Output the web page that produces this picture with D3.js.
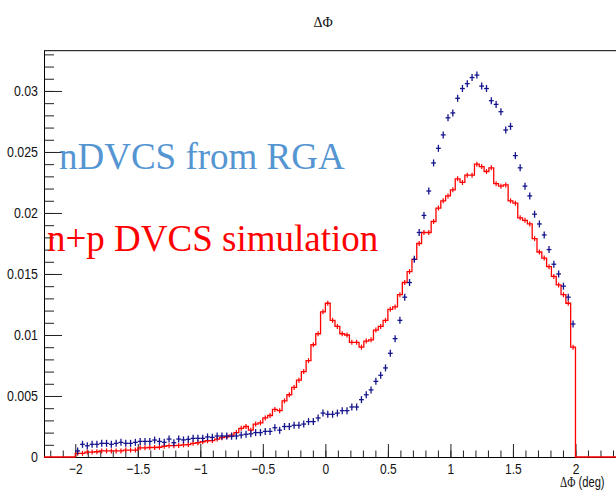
<!DOCTYPE html>
<html>
<head>
<meta charset="utf-8">
<script src="https://cdn.jsdelivr.net/npm/d3@7"></script>
<style>
  html, body { margin: 0; padding: 0; background: #fff; }
  svg { display: block; }
</style>
</head>
<body>
<svg id="chart" width="616" height="491"></svg>
<script>
// Histogram binning shared by both samples: 104 equal bins on [-2, 2]
const binRange = [-2, 2];

// nDVCS from RGA (normalised counts per bin)
const rgaValues = [
  0.0005, 0.00104, 0.00092, 0.00104, 0.00104, 0.00112, 0.00112, 0.00104, 0.00112, 0.0012,
  0.00112, 0.00112, 0.0012, 0.00128, 0.00128, 0.00128, 0.00139, 0.00128, 0.0012, 0.00147,
  0.00117, 0.00147, 0.0014, 0.00145, 0.00153, 0.00153, 0.00153, 0.00165, 0.00161, 0.00172,
  0.00172, 0.00172, 0.0017, 0.00172, 0.0018, 0.00186, 0.0019, 0.002, 0.002, 0.0021,
  0.0021, 0.0024, 0.0022, 0.0025, 0.0025, 0.0026, 0.0026, 0.0027, 0.0029, 0.0029,
  0.0032, 0.0036, 0.0035, 0.0035, 0.0036, 0.0038, 0.0038, 0.0041, 0.0041, 0.0047,
  0.0051, 0.0055, 0.0062, 0.0067, 0.0073, 0.0085, 0.0097, 0.0112, 0.0131, 0.0143,
  0.0162, 0.0184, 0.0198, 0.0218, 0.0241, 0.0253, 0.0264, 0.0278, 0.0282, 0.0294,
  0.0302, 0.0306, 0.0311, 0.0313, 0.0304, 0.0302, 0.0292, 0.0289, 0.0283, 0.0268,
  0.0271, 0.0247, 0.0237, 0.0222, 0.0214, 0.0199, 0.0191, 0.0182, 0.017, 0.0158,
  0.015, 0.014, 0.0131, 0.0109
];

// n+p DVCS simulation (normalised counts per bin)
const simValues = [
  0.0003, 0.0003, 0.0004, 0.0004, 0.00043, 0.0005, 0.0005, 0.0005, 0.0005, 0.0005,
  0.00057, 0.00057, 0.00057, 0.00075, 0.00075, 0.00078, 0.00078, 0.0008, 0.00088, 0.00093,
  0.00093, 0.00095, 0.001, 0.00102, 0.00112, 0.00117, 0.00125, 0.00133, 0.00135, 0.00147,
  0.00158, 0.00166, 0.0018, 0.002, 0.00235, 0.0025, 0.0022, 0.0027, 0.0028, 0.0032,
  0.0034, 0.0039, 0.0038, 0.0046, 0.0051, 0.0057, 0.0063, 0.007, 0.0079, 0.0092,
  0.0101, 0.0119, 0.0126, 0.0112, 0.0107, 0.0101, 0.01, 0.0094, 0.0094, 0.009,
  0.0095, 0.0096, 0.0104, 0.0107, 0.0112, 0.0121, 0.0123, 0.0133, 0.0143, 0.0152,
  0.0162, 0.0175, 0.0184, 0.0184, 0.0193, 0.0204, 0.021, 0.0214, 0.0219, 0.0228,
  0.0225, 0.0231, 0.0231, 0.024, 0.0238, 0.0234, 0.0237, 0.0224, 0.0222, 0.0223,
  0.021, 0.0208, 0.0196, 0.0194, 0.0191, 0.0179, 0.0168, 0.0163, 0.0156, 0.0148,
  0.0141, 0.0133, 0.0126, 0.009
];

// Axis ticks
const xTicks = [-2, -1.5, -1, -0.5, 0, 0.5, 1, 1.5, 2];
const xTickLabels = ["\u22122", "\u22121.5", "\u22121", "\u22120.5", "0", "0.5", "1", "1.5", "2"];
const yTicks = [0, 0.005, 0.01, 0.015, 0.02, 0.025, 0.03];
const yTickLabels = ["0", "0.005", "0.01", "0.015", "0.02", "0.025", "0.03"];

const titleText = "\u0394\u03A6";
const xTitleGreek = "\u0394\u03A6";
const xTitleUnit = " (deg)";
const legendRGA = "nDVCS from RGA";
const legendSim = "n+p DVCS simulation";

// ---------------------------------------------------------------
const svg = d3.select("#chart");
const W = 616, H = 491;
const frame = { left: 44, right: 638, top: 50.7, bottom: 457 };
const xDomain = [-2.25, 2.5];
const yDomain = [0, 0.0333];

const x = d3.scaleLinear().domain(xDomain).range([frame.left, frame.right]);
const y = d3.scaleLinear().domain(yDomain).range([frame.bottom, frame.top]);

const nBins = rgaValues.length;
const edges = d3.range(nBins + 1).map(i => binRange[0] + i * (binRange[1] - binRange[0]) / nBins);
const centre = i => (edges[i] + edges[i + 1]) / 2;

const serifFont = "Liberation Serif, DejaVu Serif, serif";
const sansFont = "Liberation Sans, Arial, sans-serif";
const squeeze = 0.8;
const rgaColor = "#14148c";
const simColor = "#ff0000";

// Frame top edge
svg.append("line")
  .attr("x1", frame.left).attr("x2", W + 10)
  .attr("y1", frame.top).attr("y2", frame.top)
  .attr("stroke", "#000").attr("stroke-width", 1);

// Y axis: minor then major ticks pointing inward
const yMinor = d3.axisLeft(y).tickValues(d3.range(0, 0.0335, 0.001)).tickSize(-10).tickSizeOuter(0).tickFormat("");
const yMajor = d3.axisLeft(y).tickValues(yTicks).tickSize(-18).tickSizeOuter(0)
  .tickFormat((d, i) => yTickLabels[i]).tickPadding(5);

const gyMinor = svg.append("g").attr("transform", `translate(${frame.left},0)`).call(yMinor);
const gy = svg.append("g").attr("transform", `translate(${frame.left},0)`).call(yMajor);

// X axis
const xMinorVals = d3.range(-22, 26).map(v => v / 10);
const xMinor = d3.axisBottom(x).tickValues(xMinorVals).tickSize(-6.5).tickSizeOuter(0).tickFormat("");
const xMajor = d3.axisBottom(x).tickValues(xTicks).tickSize(-13).tickSizeOuter(0)
  .tickFormat((d, i) => xTickLabels[i]).tickPadding(6);

const gxMinor = svg.append("g").attr("transform", `translate(0,${frame.bottom})`).call(xMinor);
const gx = svg.append("g").attr("transform", `translate(0,${frame.bottom})`).call(xMajor);

[gyMinor, gy, gxMinor, gx].forEach(g => {
  g.selectAll("path.domain").attr("stroke", "#000").attr("stroke-width", 1);
  g.selectAll(".tick line").attr("stroke", "#222").attr("stroke-width", 1);
  g.attr("font-family", sansFont);
});

gy.selectAll(".tick text")
  .attr("font-size", 15.5).attr("fill", "#111")
  .attr("x", -6 / squeeze)
  .attr("transform", `scale(${squeeze},1)`);

gx.selectAll(".tick text")
  .attr("font-size", 15).attr("fill", "#111")
  .attr("transform", `scale(${squeeze},1)`);

// Simulation histogram as a step line
const stepPts = [[x(xDomain[0]), y(0)], [x(edges[0]), y(0)]];
simValues.forEach((v, i) => {
  stepPts.push([x(edges[i]), y(v)]);
  stepPts.push([x(edges[i + 1]), y(v)]);
});
stepPts.push([x(edges[nBins]), y(0)]);
stepPts.push([x(xDomain[1]), y(0)]);

svg.append("path")
  .attr("d", d3.line()(stepPts))
  .attr("fill", "none")
  .attr("stroke", simColor)
  .attr("stroke-width", 1.3)
  .attr("stroke-linejoin", "miter");

svg.append("g").selectAll("line")
  .data(simValues)
  .join("line")
  .attr("x1", (d, i) => x(centre(i))).attr("x2", (d, i) => x(centre(i)))
  .attr("y1", d => y(d) - 2.5).attr("y2", d => y(d) + 2.5)
  .attr("stroke", simColor).attr("stroke-width", 1.2);

// Data points with bin-width horizontal bars
const rga = svg.append("g").selectAll("g")
  .data(rgaValues)
  .join("g");

rga.append("line")
  .attr("x1", (d, i) => x(edges[i])).attr("x2", (d, i) => x(edges[i + 1]))
  .attr("y1", d => y(d)).attr("y2", d => y(d))
  .attr("stroke", rgaColor).attr("stroke-width", 1.3);

rga.append("line")
  .attr("x1", (d, i) => x(centre(i))).attr("x2", (d, i) => x(centre(i)))
  .attr("y1", d => y(d) - 3.5).attr("y2", d => y(d) + 3.5)
  .attr("stroke", rgaColor).attr("stroke-width", 1.3);

// Labels inside the plot
svg.append("text")
  .attr("x", 59).attr("y", 169)
  .attr("font-family", serifFont)
  .style("font-family", serifFont)
  .attr("font-size", 37)
  .attr("fill", "#5596d2")
  .text(legendRGA);

svg.append("text")
  .attr("x", 47).attr("y", 251)
  .attr("font-family", serifFont)
  .style("font-family", serifFont)
  .attr("font-size", 37)
  .attr("fill", simColor)
  .text(legendSim);

// Title
svg.append("text")
  .attr("x", 323).attr("y", 27)
  .attr("text-anchor", "middle")
  .attr("font-family", serifFont)
  .style("font-family", serifFont)
  .attr("font-size", 14)
  .attr("fill", "#111")
  .text(titleText);

// X-axis title
const xt = svg.append("text")
  .attr("transform", `translate(560,487) scale(${squeeze},1)`)
  .attr("font-family", sansFont)
  .attr("font-size", 14)
  .attr("fill", "#111");
xt.append("tspan").style("font-family", serifFont).text(xTitleGreek);
xt.append("tspan").text(xTitleUnit);
</script>
</body>
</html>
